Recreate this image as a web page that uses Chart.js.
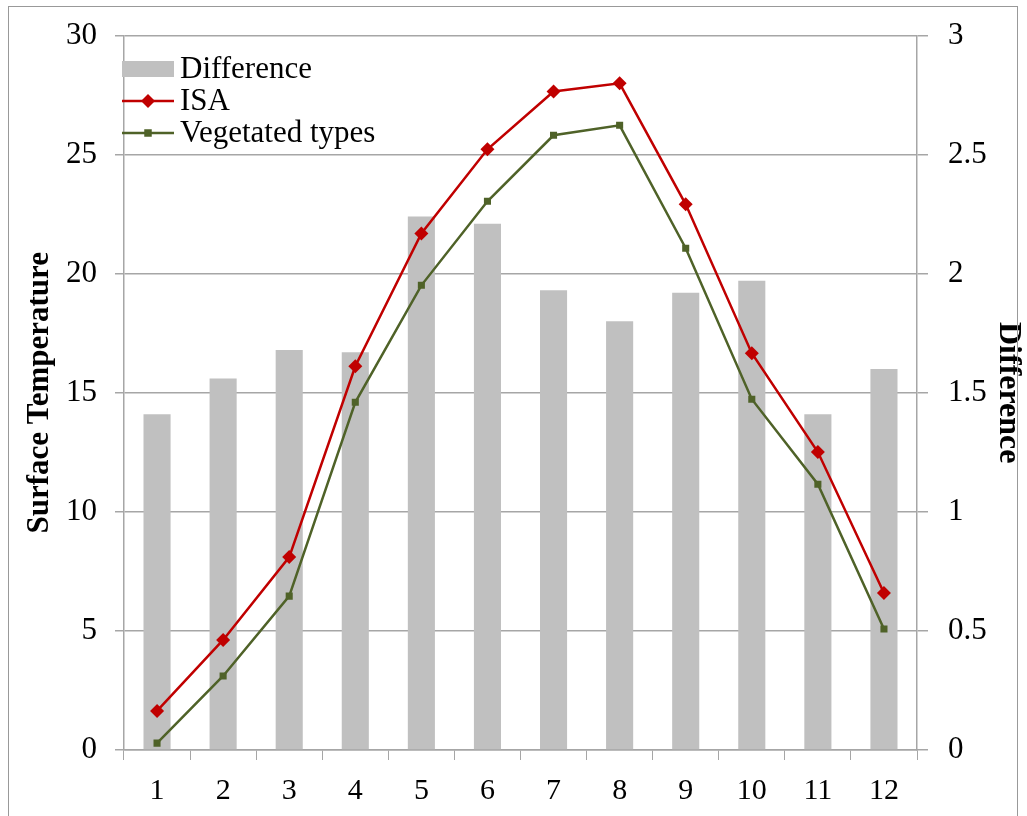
<!DOCTYPE html>
<html>
<head>
<meta charset="utf-8">
<script src="https://cdn.jsdelivr.net/npm/chart.js@4.4.0/dist/chart.umd.min.js"></script>
<style>
  html, body { margin: 0; padding: 0; background: #fff; }
  #wrap { position: relative; width: 1027px; height: 816px; }
  #frame { position: absolute; left: 8px; top: 6px; width: 1010px; height: 820px; border: 1.5px solid #999; box-sizing: border-box; pointer-events: none; }
</style>
</head>
<body>
<div id="wrap">
  <canvas id="chart" width="1027" height="816"></canvas>
  <div id="frame"></div>
</div>
<script>
// values
const months = ["1", "2", "3", "4", "5", "6", "7", "8", "9", "10", "11", "12"];
const difference = [1.41, 1.56, 1.68, 1.67, 2.24, 2.21, 1.93, 1.80, 1.92, 1.97, 1.41, 1.60];
const isa = [1.64, 4.62, 8.10, 16.11, 21.69, 25.22, 27.65, 27.99, 22.91, 16.66, 12.51, 6.59];
const vegetated = [0.29, 3.11, 6.46, 14.60, 19.51, 23.04, 25.81, 26.23, 21.07, 14.73, 11.16, 5.08];
const tempTicks = [0, 5, 10, 15, 20, 25, 30];
const diffTicks = [0, 0.5, 1, 1.5, 2, 2.5, 3];

const serif = "'Liberation Serif', 'Times New Roman', serif";
const gridColor = '#a6a6a6';

// legend drawn inside the plot area, top-left, like the original
const innerLegend = {
  id: 'innerLegend',
  afterDraw(chart) {
    const ctx = chart.ctx;
    const x0 = 122, y0 = 69, rowH = 32;
    ctx.save();
    ctx.font = '31px ' + serif;
    ctx.textBaseline = 'middle';
    chart.data.datasets.forEach((ds, i) => {
      const y = y0 + i * rowH;
      if (ds.type === 'bar') {
        ctx.fillStyle = ds.backgroundColor;
        ctx.fillRect(x0, y - 8, 52, 16);
      } else {
        ctx.strokeStyle = ds.borderColor;
        ctx.lineWidth = ds.borderWidth;
        ctx.beginPath();
        ctx.moveTo(x0, y);
        ctx.lineTo(x0 + 52, y);
        ctx.stroke();
        ctx.fillStyle = ds.pointBackgroundColor;
        const cx = x0 + 26, r = ds.pointRadius;
        ctx.beginPath();
        if (ds.pointStyle === 'rectRot') {
          ctx.moveTo(cx, y - r); ctx.lineTo(cx + r, y); ctx.lineTo(cx, y + r); ctx.lineTo(cx - r, y);
        } else {
          ctx.rect(cx - r * 0.75, y - r * 0.75, r * 1.5, r * 1.5);
        }
        ctx.closePath();
        ctx.fill();
      }
      ctx.fillStyle = '#000';
      ctx.fillText(ds.label, x0 + 58, y + 1);
    });
    ctx.restore();
  }
};

new Chart(document.getElementById('chart').getContext('2d'), {
  data: {
    labels: months,
    datasets: [
      {
        type: 'bar',
        label: 'Difference',
        data: difference,
        yAxisID: 'y1',
        backgroundColor: '#c0c0c0',
        barPercentage: 1,
        categoryPercentage: 0.41,
        order: 3
      },
      {
        type: 'line',
        label: 'ISA',
        data: isa,
        yAxisID: 'y',
        borderColor: '#c00000',
        borderWidth: 2.5,
        pointStyle: 'rectRot',
        pointRadius: 7,
        pointBackgroundColor: '#c00000',
        pointBorderColor: '#c00000',
        pointBorderWidth: 0,
        tension: 0,
        order: 1
      },
      {
        type: 'line',
        label: 'Vegetated types',
        data: vegetated,
        yAxisID: 'y',
        borderColor: '#4f6228',
        borderWidth: 2.5,
        pointStyle: 'rect',
        pointRadius: 5,
        pointBackgroundColor: '#4f6228',
        pointBorderColor: '#4f6228',
        pointBorderWidth: 0,
        tension: 0,
        order: 2
      }
    ]
  },
  options: {
    responsive: false,
    animation: false,
    layout: { padding: { left: 0, right: 0, top: 35, bottom: 0 } },
    plugins: {
      legend: { display: false },
      tooltip: { enabled: false }
    },
    scales: {
      x: {
        offset: true,
        grid: { offset: true, drawOnChartArea: false, tickLength: 10, color: gridColor },
        border: { color: gridColor, width: 1.5 },
        ticks: { color: '#000', font: { family: serif, size: 30 }, padding: 13, maxRotation: 0 },
        afterFit(scale) { scale.height = 66; }
      },
      y: {
        position: 'left',
        min: 0,
        max: 30,
        afterBuildTicks(scale) { scale.ticks = tempTicks.map(v => ({ value: v })); },
        grid: { color: gridColor, lineWidth: 1.5, tickLength: 9 },
        border: { color: gridColor, width: 1.5 },
        ticks: { color: '#000', font: { family: serif, size: 31, lineHeight: 1 }, padding: 18 },
        title: {
          display: true,
          text: 'Surface Temperature',
          color: '#000',
          font: { family: serif, size: 31, weight: 'bold' },
          padding: { top: 21, bottom: 0 }
        },
        afterFit(scale) { scale.width = 124; }
      },
      y1: {
        position: 'right',
        min: 0,
        max: 3,
        afterBuildTicks(scale) { scale.ticks = diffTicks.map(v => ({ value: v })); },
        grid: { drawOnChartArea: false, color: gridColor, lineWidth: 1.5, tickLength: 11 },
        border: { color: gridColor, width: 1.5 },
        ticks: {
          color: '#000',
          font: { family: serif, size: 31, lineHeight: 1 },
          padding: 20,
          callback: v => String(v)
        },
        title: {
          display: true,
          text: 'Difference',
          color: '#000',
          font: { family: serif, size: 32, weight: 'bold' },
          padding: { top: 0, bottom: 0 }
        },
        afterFit(scale) { scale.width = 110; }
      }
    }
  },
  plugins: [innerLegend]
});
</script>
</body>
</html>
